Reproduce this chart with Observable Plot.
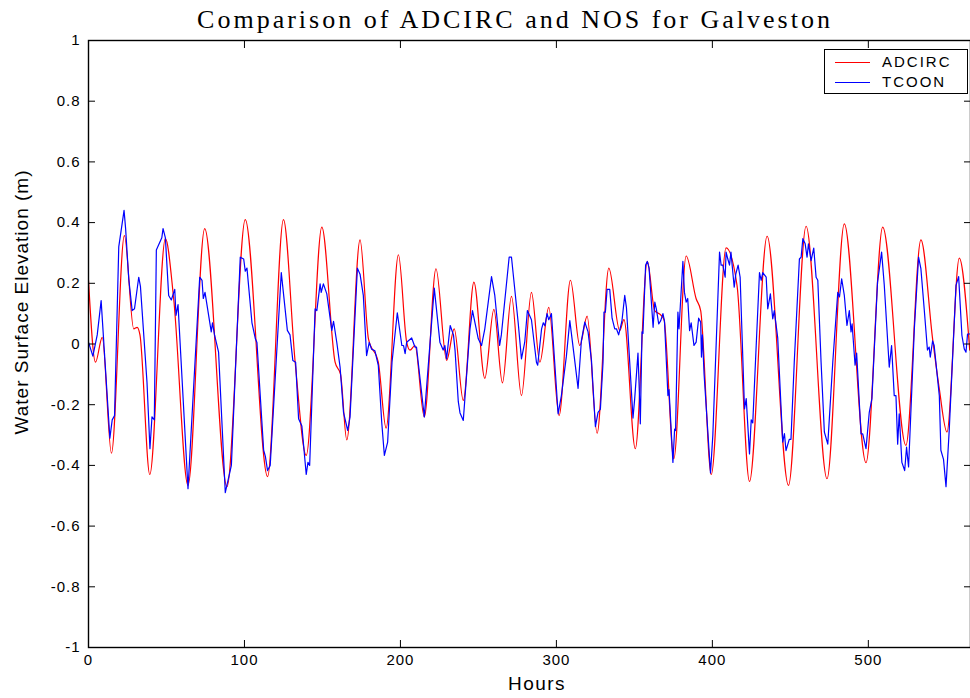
<!DOCTYPE html>
<html><head><meta charset="utf-8">
<script src="https://cdn.jsdelivr.net/npm/d3@7"></script>
<script src="https://cdn.jsdelivr.net/npm/@observablehq/plot@0.6"></script>
<style>
body{margin:0;background:#fff;}
#wrap{position:relative;width:970px;height:698px;overflow:hidden;}
#title{position:absolute;left:0;width:1030px;top:5px;line-height:30px;text-align:center;font-family:"Liberation Serif","Times New Roman",serif;font-size:26px;letter-spacing:3px;color:#000;}
#ylab{position:absolute;left:22px;top:302px;transform:translate(-50%,-50%) rotate(-90deg);white-space:nowrap;font-family:"Liberation Sans",Arial,sans-serif;font-size:19px;letter-spacing:1px;}
#xlab{position:absolute;left:537px;top:684px;transform:translate(-50%,-50%);font-family:"Liberation Sans",Arial,sans-serif;font-size:19px;letter-spacing:1.5px;}
#legend{position:absolute;left:824px;top:49px;width:142px;height:43px;border:1.5px solid #000;background:#fff;font-family:"Liberation Sans",Arial,sans-serif;font-size:15px;letter-spacing:2px;}
#legend .row{position:absolute;left:0;height:20px;line-height:20px;}
#legend .sw{position:absolute;left:10px;width:35px;top:10px;height:0;border-top:1px solid;}
#legend .lb{position:absolute;left:57px;white-space:nowrap;}
svg text{letter-spacing:1px;}
</style>
</head><body>
<div id="wrap">
  <div id="chart"></div>
  <div id="title"></div>
  <div id="ylab"></div>
  <div id="xlab"></div>
  <div id="legend"></div>
</div>
<script>
const titleText = "Comparison of ADCIRC and NOS for Galveston";
const xLabel = "Hours";
const yLabel = "Water Surface Elevation (m)";
const seriesNames = ["ADCIRC", "TCOON"];
const seriesColors = ["#ff0000", "#0000ff"];
const xTicks = [0, 100, 200, 300, 400, 500];
const yTicks = [-1, -0.8, -0.6, -0.4, -0.2, 0, 0.2, 0.4, 0.6, 0.8, 1];

// ADCIRC (model) – turning points
const adcircHours = [0,4.5,8.8,14.7,23,29,31.2,33,39.3,49.3,54.6,63.8,74.5,88.8,100.5,114.8,125,132.5,139.6,149.6,158.1,161.6,165.6,174.1,179.5,185.8,190.8,198.7,204,206.1,209.3,215.3,222.8,229.6,234.5,240.3,247.1,254.1,259.9,265.4,271.2,277.6,284,289.4,295.1,301.7,309,315,319.7,326.1,333.6,340.6,343.3,350.6,358.3,363,367,369,375.3,383.2,389.6,392.5,399.3,408.8,415.8,423.8,435.1,448.8,460.1,473.5,484.6,498.5,509.2,524.1,533.7,541.2,545.5,550.4,558.3,565];
const adcircLevel = [0.21,-0.06,0.022,-0.36,0.357,0.05,0.055,0.03,-0.43,0.347,0.15,-0.466,0.38,-0.47,0.41,-0.437,0.41,-0.06,-0.367,0.385,-0.06,-0.1,-0.316,0.343,0.017,-0.06,-0.277,0.294,0.006,-0.02,-0.005,-0.24,0.248,-0.054,0.05,-0.186,0.204,-0.113,0.114,-0.128,0.157,-0.17,0.17,-0.06,0.121,-0.236,0.21,-0.005,0.092,-0.294,0.25,0.044,0.08,-0.345,0.272,0.11,0.095,0.08,-0.378,0.29,0.149,0.11,-0.43,0.317,0.193,-0.453,0.355,-0.466,0.388,-0.444,0.396,-0.391,0.385,-0.334,0.343,0.017,-0.148,-0.29,0.283,-0.02];

// TCOON (observed)
const tcoonHours = [0,2.8,5.6,8.1,13.7,15.2,16.7,19.4,22.8,23.8,25.8,28,29.5,32.2,33.3,37.5,39.4,40.7,42.2,43.5,47,47.8,49.3,51.4,53.1,55.3,56.1,57.4,63.8,71.3,72.8,73.6,74.7,78.7,79.5,80.8,83.4,87.7,91.6,97.3,99.5,100.5,101.6,104.8,107,108,112.3,113.4,114.8,116.5,123.6,127.5,129.2,131,132.8,134.7,136.8,139.6,140.7,141.8,145.3,146.4,148.5,149.2,150.6,152.8,156,157.1,159.2,161.3,163.5,166.2,167.7,172.4,174.1,176.2,178.3,180,181.5,183.6,185.8,188,189.7,191.8,194.6,198,200.9,202,203,204,207.2,209.3,210.3,215.3,221.7,225.3,227.4,228.5,229.6,231.9,234,235,237.1,238.2,240.3,244.6,246.2,249.9,252,254.1,258.4,260.5,263.6,264.7,269.7,271.2,275.5,277.6,279.7,281.4,284,287.2,288,290.5,291.6,292.6,294,295.1,296.8,298.9,301.1,303.2,306.4,308.6,311.4,313.9,316,318.2,320.3,322.5,325,326.7,328.2,329.9,330.5,331.4,332.5,334.2,335.7,337.4,338.5,339.9,342,343.8,344.9,347,349.1,350.2,352.3,353,353.8,354.9,355.5,357.2,358.3,359.4,362,363.1,364.1,365.6,366.9,368.3,369.3,371.5,372.2,374.7,375.8,376.4,377.9,378.6,381.1,382.1,383.2,384.2,385.4,386.4,388.2,389.6,391.2,392.5,393,393.6,394.7,398.8,400.3,404.6,405.6,406.7,408.2,408.8,409.9,411,411.9,414,415,416.5,417.8,420.6,421.7,423.8,424.9,425.9,428.1,430.2,431.3,432.3,434.5,435.5,437.2,438.7,439.7,441.9,445.1,446.2,447.2,449.3,450.4,452.5,455.8,456.9,458,459.5,460.7,461.6,463.3,465,466.5,467.6,469.7,471.8,474,477.2,480.4,481.5,482.9,484.6,486.3,487.8,488.9,489.6,491.5,492.5,495.3,496.4,498.5,500.6,502.3,505.9,508.5,510.2,513.4,514.9,516.6,517.7,518.8,519.8,521.5,523.3,524.5,525.8,529.5,532.2,533.7,535.8,537.9,539,539.7,541.2,542.2,545.5,546.5,548.2,549.8,551.9,556.2,557.9,560,561.5,562.6,563.6,565];
const tcoonLevel = [0.006,-0.04,0.03,0.143,-0.31,-0.25,-0.236,0.32,0.44,0.38,0.215,0.11,0.116,0.22,0.19,-0.126,-0.345,-0.24,-0.25,0.31,0.35,0.38,0.35,0.16,0.145,0.18,0.094,0.13,-0.477,0.22,0.21,0.15,0.17,0.04,0.07,0.03,-0.027,-0.49,-0.4,0.286,0.28,0.24,0.25,0.07,0.017,0.005,-0.35,-0.37,-0.417,-0.4,0.235,0.045,0.03,-0.054,-0.06,-0.246,-0.27,-0.43,-0.39,-0.4,0.116,0.11,0.198,0.17,0.198,0.165,0.045,0.075,0.005,-0.076,-0.225,-0.285,-0.24,0.25,0.23,0.16,-0.038,0.005,-0.017,-0.022,-0.07,-0.258,-0.367,-0.323,-0.06,0.103,-0.005,-0.005,-0.032,0.006,0.02,-0.01,-0.01,-0.24,0.184,0.006,-0.02,-0.005,-0.049,0.061,0.03,-0.02,-0.19,-0.227,-0.252,0.05,0.11,0.017,-0.005,0.05,0.222,0.16,-0.005,0.03,0.286,0.286,0.07,-0.049,0.006,0.11,0.08,-0.06,-0.07,0.05,0.07,0.06,0.1,0.08,0.1,-0.06,-0.23,-0.17,-0.04,0.077,-0.04,-0.146,0.01,0.072,0.04,-0.055,-0.272,-0.225,-0.215,-0.06,0.105,0.105,0.18,0.18,0.085,0.05,0.05,0.03,0.075,0.16,0.12,-0.06,-0.244,-0.18,-0.03,-0.13,-0.263,0.04,0.035,0.26,0.272,0.25,0.055,0.138,0.115,0.066,0.077,0.1,0.075,-0.17,-0.15,-0.39,-0.28,-0.285,0.105,0.05,0.272,0.17,0.138,0.15,0.044,0.07,-0.005,0.006,0.085,0.072,-0.043,0.03,-0.1,-0.425,-0.3,0.303,0.26,0.26,0.22,0.303,0.28,0.26,0.303,0.187,0.23,0.26,0.22,-0.214,-0.18,-0.362,-0.25,-0.26,-0.005,0.235,0.21,0.235,0.22,0.116,0.165,0.083,0.11,0.02,-0.323,-0.295,-0.351,-0.314,-0.314,-0.06,0.28,0.286,0.347,0.33,0.286,0.33,0.275,0.316,0.22,0.21,-0.06,-0.29,-0.33,-0.06,0.17,0.155,0.215,0.16,0.061,0.11,0.04,0.066,-0.07,-0.03,-0.296,-0.296,-0.345,-0.225,-0.18,0.204,0.303,0.195,-0.076,-0.005,-0.17,-0.17,-0.33,-0.23,-0.39,-0.417,-0.34,-0.405,0.05,0.286,0.248,0.116,-0.02,-0.01,-0.043,0.01,-0.005,-0.17,-0.35,-0.38,-0.47,-0.28,0.193,0.222,0.028,-0.016,-0.027,0.033,0.033];

const fmt = d => String(+d.toFixed(1));

const chart = Plot.plot({
  width: 970,
  height: 698,
  marginLeft: 88,
  marginRight: 0,
  marginTop: 40,
  marginBottom: 51,
  style: {fontFamily: "'Liberation Sans', Arial, sans-serif", fontSize: "15px", background: "#fff", color: "#000"},
  x: {domain: [0, 565.5], label: null},
  y: {domain: [-1, 1], label: null},
  marks: [
    Plot.line({length: adcircHours.length}, {x: adcircHours, y: adcircLevel, stroke: seriesColors[0], strokeWidth: 1.2, curve: "monotone-x", clip: true}),
    Plot.line({length: tcoonHours.length}, {x: tcoonHours, y: tcoonLevel, stroke: seriesColors[1], strokeWidth: 1.2, clip: true}),
    Plot.frame({stroke: "#000", strokeWidth: 1.4}),
    Plot.axisX(xTicks, {anchor: "bottom", tickSize: 0, tickPadding: 7, tickFormat: fmt, fontSize: 15, label: null}),
    Plot.axisX(xTicks, {anchor: "bottom", tickSize: -7, tickFormat: () => "", label: null}),
    Plot.axisX(xTicks, {anchor: "top", tickSize: -7, tickFormat: () => "", label: null}),
    Plot.axisY(yTicks, {anchor: "left", tickSize: 0, tickPadding: 8, tickFormat: fmt, fontSize: 15, label: null}),
    Plot.axisY(yTicks, {anchor: "left", tickSize: -7, tickFormat: () => "", label: null}),
    Plot.axisY(yTicks, {anchor: "right", tickSize: -7, tickFormat: () => "", label: null})
  ]
});
document.getElementById("chart").appendChild(chart);
document.getElementById("title").textContent = titleText;
document.getElementById("ylab").textContent = yLabel;
document.getElementById("xlab").textContent = xLabel;
const lg = document.getElementById("legend");
seriesNames.forEach((n, i) => {
  const row = document.createElement("div");
  row.className = "row";
  row.style.top = (2 + i * 20) + "px";
  row.style.width = "100%";
  const sw = document.createElement("div");
  sw.className = "sw";
  sw.style.borderTopColor = seriesColors[i];
  const lb = document.createElement("div");
  lb.className = "lb";
  lb.textContent = n;
  row.appendChild(sw); row.appendChild(lb);
  lg.appendChild(row);
});
</script>
</body></html>
